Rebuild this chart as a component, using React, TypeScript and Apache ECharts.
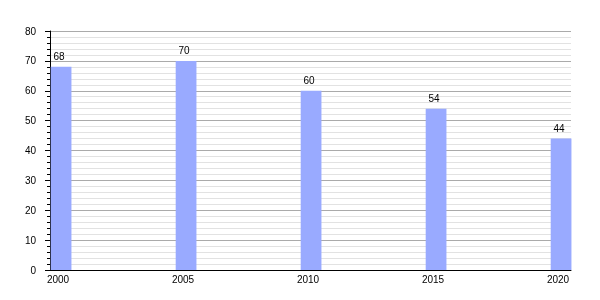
import React, { useEffect, useRef } from "react";
import * as echarts from "echarts";

const years = [2000, 2005, 2010, 2015, 2020];
const values = [68, 70, 60, 54, 44];
const yTicks = [0, 10, 20, 30, 40, 50, 60, 70, 80];
const BAR_SPAN = 0.83; // bar width, in years

export default function App() {
  const ref = useRef<HTMLDivElement>(null);
  useEffect(() => {
    const chart = echarts.init(ref.current!, null, { renderer: "svg" });
    const font = "Liberation Sans, Arial, sans-serif";
    chart.setOption({
      animation: false,
      grid: { left: 50, right: 29, top: 31, bottom: 30, containLabel: false },
      xAxis: {
        type: "value",
        min: 2000,
        max: 2020.84,
        interval: 5,
        axisLine: { show: true, lineStyle: { color: "#000", width: 1 } },
        axisTick: { show: false },
        splitLine: { show: false },
        axisLabel: {
          color: "#000",
          fontSize: 10,
          fontFamily: font,
          margin: 4,
          padding: [0, 0, 0, 16],
          formatter: (v: number) => (years.includes(v) ? String(v) : ""),
        },
      },
      yAxis: {
        type: "value",
        min: yTicks[0],
        max: yTicks[yTicks.length - 1],
        interval: 10,
        axisLine: { show: true, lineStyle: { color: "#000", width: 1 } },
        axisTick: { show: true, inside: false, length: 5, lineStyle: { color: "#000" } },
        minorTick: { show: true, splitNumber: 5, length: 3, lineStyle: { color: "#000" } },
        splitLine: { show: true, lineStyle: { color: "#aaaaaa", width: 1 } },
        minorSplitLine: { show: true, lineStyle: { color: "#e2e2e2", width: 1 } },
        axisLabel: { color: "#000", fontSize: 10, fontFamily: font, margin: 14 },
      },
      series: [
        {
          type: "custom",
          data: years.map((y, i) => [y, values[i]]),
          renderItem: (params: any, api: any) => {
            const x = api.value(0);
            const v = api.value(1);
            const top = api.coord([x, v]);
            const base = api.coord([x, 0]);
            const w = api.size([BAR_SPAN, 0])[0];
            const x0 = top[0] + 0.7;
            return {
              type: "group",
              children: [
                {
                  type: "rect",
                  shape: { x: x0, y: top[1], width: w, height: base[1] - top[1] },
                  style: { fill: "#99aaff" },
                },
                {
                  type: "text",
                  x: x0 + w / 2 - 2,
                  y: top[1] - 5,
                  style: {
                    text: String(v),
                    fill: "#000",
                    fontSize: 10,
                    fontFamily: font,
                    align: "center",
                    verticalAlign: "bottom",
                  },
                },
              ],
            };
          },
        },
      ],
    });
    return () => chart.dispose();
  }, []);
  return (
    <div
      ref={ref}
      style={{ position: "fixed", left: 0, top: 0, width: 600, height: 300 }}
    />
  );
}
